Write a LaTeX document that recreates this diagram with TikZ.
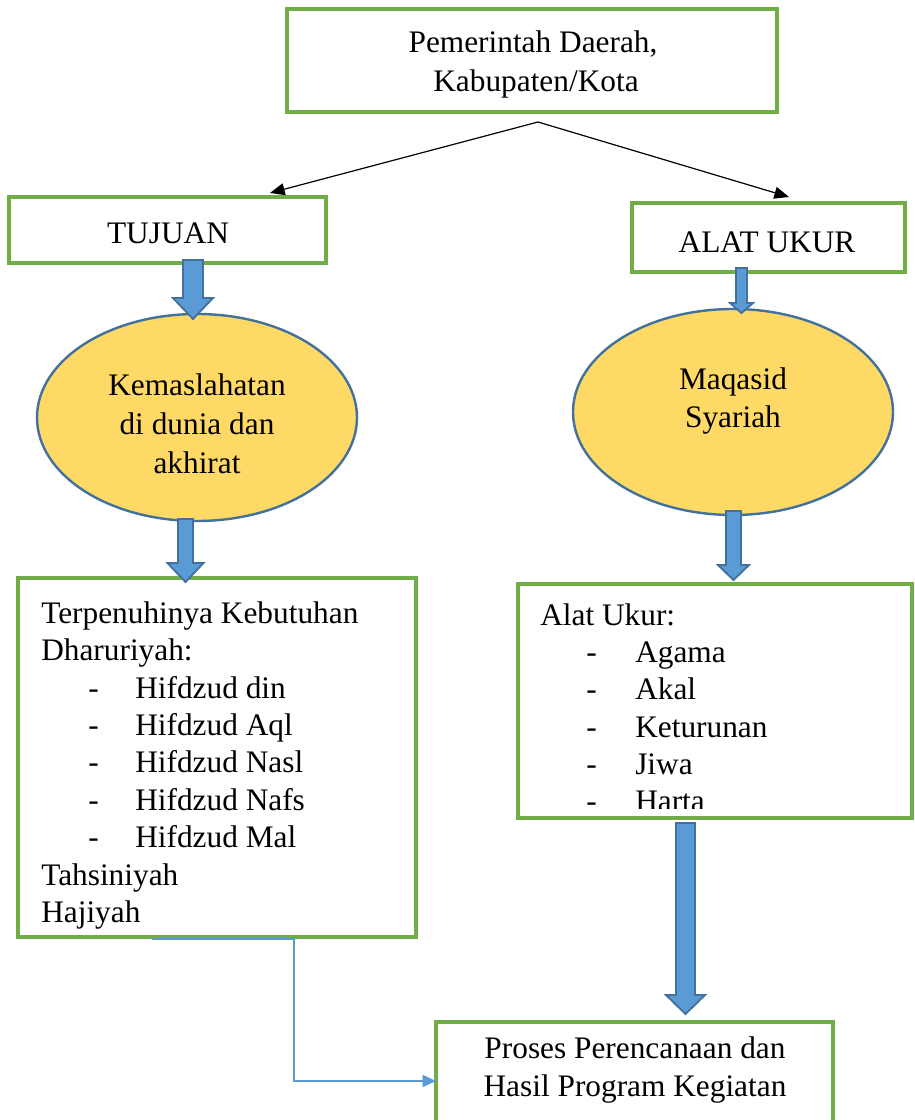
\documentclass[tikz,border=0pt]{standalone}
\usepackage{fontspec}
\setmainfont{Liberation Serif}
\usetikzlibrary{arrows.meta,shapes.geometric}
\definecolor{boxgreen}{HTML}{70AD47}
\definecolor{arrowblue}{HTML}{5B9BD5}
\definecolor{arrowedge}{HTML}{41719C}
\definecolor{ellfill}{HTML}{FFD966}
\newcommand\myfont{\fontsize{23.5pt}{28pt}\selectfont}
% block arrow: x, ytop, ytip, shaft half width, head half width, head top
\newcommand\blkarrow[6]{%
  \draw[blockarrow] (#1-#4,#2) -- (#1+#4,#2) -- (#1+#4,#6) -- (#1+#5,#6) -- (#1,#3) -- (#1-#5,#6) -- (#1-#4,#6) -- cycle;}
\tikzset{
  box/.style={draw=boxgreen, line width=2.5pt, fill=white, rectangle, inner sep=0pt},
  ell/.style={draw=arrowedge, line width=1.8pt, fill=ellfill, ellipse, inner sep=0pt},
  txt/.style={anchor=base, inner sep=0pt, font=\myfont},
  ltxt/.style={anchor=base west, inner sep=0pt, font=\myfont},
  blockarrow/.style={fill=arrowblue, draw=arrowedge, line width=1.4pt, line join=miter},
  splitarrow/.style={draw=black, line width=0.9pt, -{Triangle[length=11pt,width=9pt]}},
  conn/.style={draw=arrowblue, line width=1.2pt, -{Triangle[length=10pt,width=9pt]}}
}
\begin{document}
\begin{tikzpicture}[x=0.75pt,y=-0.75pt]
\clip (0,0) rectangle (914,1120);
\fill[white] (0,0) rectangle (914,1120);

% boxes
\node[box, minimum width=490*0.75pt, minimum height=103*0.75pt] (topbox) at (532,60.5) {};
\node[box, minimum width=317*0.75pt, minimum height=66*0.75pt] (tujuan) at (167.5,230) {};
\node[box, minimum width=273*0.75pt, minimum height=69*0.75pt] (alat) at (768.5,237.5) {};
\node[box, minimum width=398*0.75pt, minimum height=359*0.75pt] (leftlist) at (217,757.5) {};
\node[box, minimum width=394*0.75pt, minimum height=234*0.75pt] (rightlist) at (715,701) {};
\node[box, minimum width=397*0.75pt, minimum height=108*0.75pt] (proses) at (634.5,1076) {};

% ellipses
\node[ell, minimum width=320*0.75pt, minimum height=207*0.75pt] (kemas) at (197,417.5) {};
\node[ell, minimum width=320*0.75pt, minimum height=206*0.75pt] (maqasid) at (733,412) {};

% texts
\node[txt] (t1) at (533,53) {Pemerintah Daerah,};
\node[txt] (t2) at (536,92) {Kabupaten/Kota};
\node[txt] (t3) at (168,243) {TUJUAN};
\node[txt] (t4) at (767,252) {ALAT UKUR};
\node[txt] (t5) at (197,395) {Kemaslahatan};
\node[txt] (t6) at (197,434) {di dunia dan};
\node[txt] (t7) at (197,473) {akhirat};
\node[txt] (t8) at (733,389) {Maqasid};
\node[txt] (t9) at (733,427) {Syariah};
\node[txt] (t10) at (635,1058) {Proses Perencanaan dan};
\node[txt] (t11) at (635,1096) {Hasil Program Kegiatan};

\node[ltxt] (l1) at (41,623) {Terpenuhinya Kebutuhan};
\node[ltxt] (l2) at (41,660) {Dharuriyah:};
\node[ltxt] (d1) at (88,698) {-};
\node[ltxt] (l3) at (135,698) {Hifdzud din};
\node[ltxt] (d2) at (88,735) {-};
\node[ltxt] (l4) at (135,735) {Hifdzud Aql};
\node[ltxt] (d3) at (88,772) {-};
\node[ltxt] (l5) at (135,772) {Hifdzud Nasl};
\node[ltxt] (d4) at (88,810) {-};
\node[ltxt] (l6) at (135,810) {Hifdzud Nafs};
\node[ltxt] (d5) at (88,847) {-};
\node[ltxt] (l7) at (135,847) {Hifdzud Mal};
\node[ltxt] (l8) at (41,885) {Tahsiniyah};
\node[ltxt] (l9) at (41,922) {Hajiyah};

\begin{scope}
\clip (518,584) rectangle (912,808);
\node[ltxt] (r1) at (540,625) {Alat Ukur:};
\node[ltxt] (rd1) at (586,662) {-};
\node[ltxt] (r2) at (635,662) {Agama};
\node[ltxt] (rd2) at (586,699) {-};
\node[ltxt] (r3) at (635,699) {Akal};
\node[ltxt] (rd3) at (586,737) {-};
\node[ltxt] (r4) at (635,737) {Keturunan};
\node[ltxt] (rd4) at (586,774) {-};
\node[ltxt] (r5) at (635,774) {Jiwa};
\node[ltxt] (rd5) at (586,811) {-};
\node[ltxt] (r6) at (635,811) {Harta};
\end{scope}

% split arrows
\coordinate (split) at (538,122);
\coordinate (tujuantip) at (270,193);
\coordinate (alattip) at (789,197);
\draw[splitarrow] (split) -- (tujuantip);
\draw[splitarrow] (split) -- (alattip);

% elbow connector
\coordinate (c1) at (152,939);
\coordinate (c2) at (436,1081);
\draw[conn] (c1) -- ++(142,0) |- (c2);

% block arrows
\blkarrow{193}{260}{319}{10}{20}{298}
\blkarrow{741.5}{268}{313}{5.5}{11.5}{303}
\blkarrow{185.5}{519}{582}{7.5}{18}{563}
\blkarrow{733.5}{511}{580}{7.5}{15.5}{565}
\blkarrow{685.5}{823}{1014}{9.5}{19.5}{995}
\end{tikzpicture}
\end{document}
